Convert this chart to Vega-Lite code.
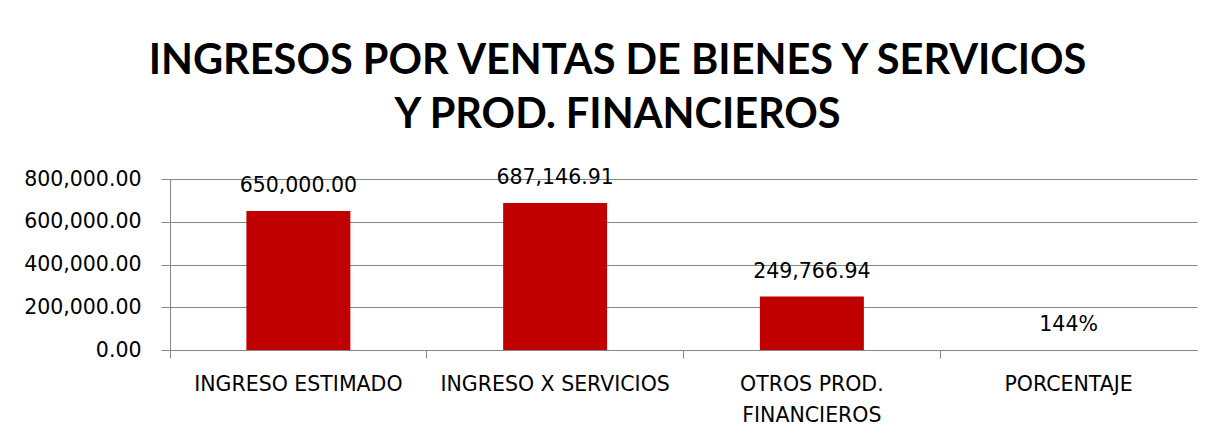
{
  "$schema": "https://vega.github.io/schema/vega-lite/v6.json",
  "width": 1027,
  "height": 171,
  "autosize": {"type": "none"},
  "padding": {"left": 170, "top": 179, "right": 32, "bottom": 95},
  "background": "white",
  "title": {
    "text": ["INGRESOS POR VENTAS DE BIENES Y SERVICIOS", "Y PROD. FINANCIEROS"],
    "font": "Lato",
    "fontSize": 41.5,
    "fontWeight": "bold",
    "color": "#000000",
    "anchor": "middle",
    "dx": -66,
    "lineHeight": 54,
    "offset": 32
  },
  "data": {
    "values": [
      {"categoria": "INGRESO ESTIMADO", "valor": 650000, "etiqueta": "650,000.00"},
      {"categoria": "INGRESO X SERVICIOS", "valor": 687146.91, "etiqueta": "687,146.91"},
      {"categoria": "OTROS PROD. FINANCIEROS", "valor": 249766.94, "etiqueta": "249,766.94"},
      {"categoria": "PORCENTAJE", "valor": 1.44, "etiqueta": "144%"}
    ]
  },
  "encoding": {
    "x": {
      "field": "categoria",
      "type": "nominal",
      "sort": null,
      "scale": {"paddingInner": 0, "paddingOuter": 0},
      "axis": {
        "title": null,
        "labelAngle": 0,
        "bandPosition": 0,
        "labelFont": "DejaVu Sans",
        "labelFontSize": 20.5,
        "labelColor": "#000000",
        "labelPadding": 16,
        "labelLineHeight": 31,
        "labelBaseline": "top",
        "labelLimit": 0,
        "labelExpr": "datum.value == 'OTROS PROD. FINANCIEROS' ? ['OTROS PROD.', 'FINANCIEROS'] : datum.value",
        "domainColor": "#868686",
        "tickColor": "#868686",
        "tickSize": 8,
        "grid": false
      }
    },
    "y": {
      "field": "valor",
      "type": "quantitative",
      "scale": {"domain": [0, 800000], "nice": false},
      "axis": {
        "title": null,
        "values": [0, 200000, 400000, 600000, 800000],
        "format": ",.2f",
        "labelFont": "DejaVu Sans",
        "labelFontSize": 20.5,
        "labelColor": "#000000",
        "labelPadding": 20,
        "domainColor": "#868686",
        "tickColor": "#868686",
        "tickSize": 9,
        "gridColor": "#868686",
        "gridOpacity": 1
      }
    }
  },
  "layer": [
    {
      "mark": {"type": "bar", "color": "#C00000", "width": {"band": 0.405}}
    },
    {
      "mark": {"type": "text", "baseline": "alphabetic", "dy": -19, "font": "DejaVu Sans", "fontSize": 20.5, "color": "#000000"},
      "encoding": {"text": {"field": "etiqueta"}}
    }
  ],
  "config": {"view": {"stroke": null}}
}
